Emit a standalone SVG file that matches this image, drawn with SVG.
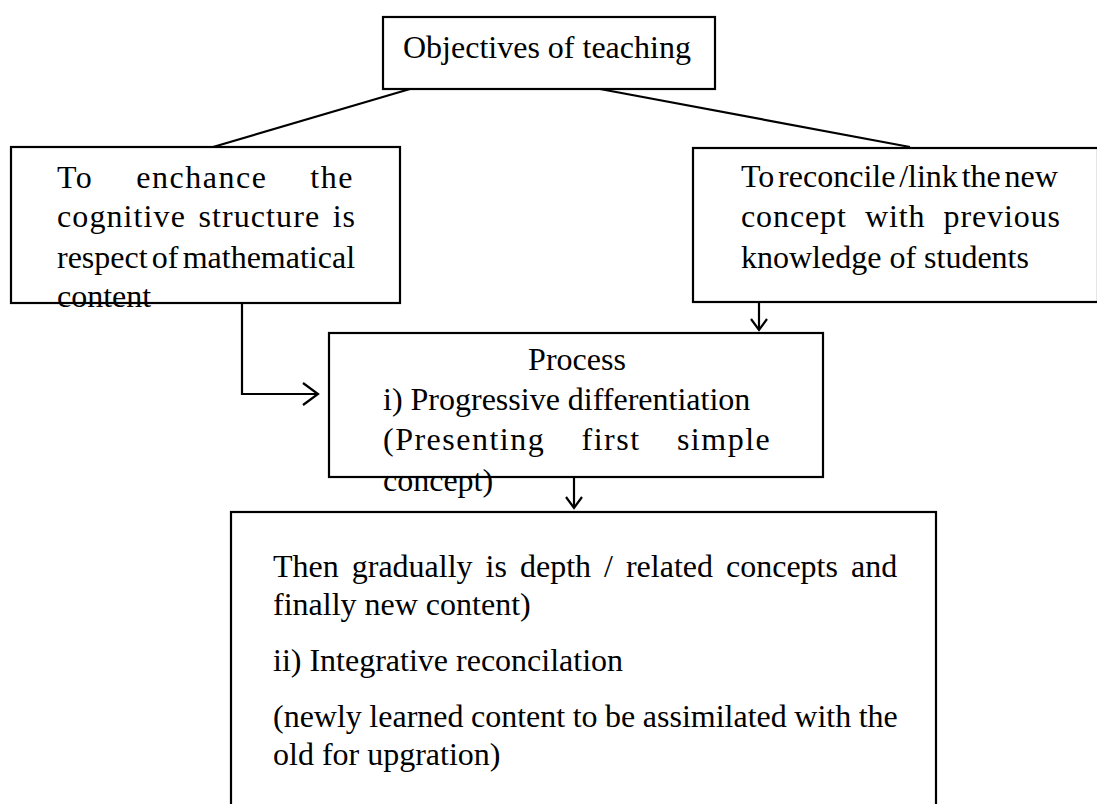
<svg xmlns="http://www.w3.org/2000/svg" width="1097" height="804" viewBox="0 0 1097 804">
<style>
.box{fill:#fff;stroke:#000;stroke-width:2.2}
.ln{fill:none;stroke:#000;stroke-width:2.2}
text{font-family:"Liberation Serif","Times New Roman",serif;font-size:32px;fill:#000}
</style>
<rect width="1097" height="804" fill="#fff"/>
<g id="connectors">
<line class="ln" x1="410" y1="89" x2="213" y2="147"/>
<line class="ln" x1="600" y1="89" x2="910" y2="147"/>
<path class="ln" d="M242,303 V394 H318"/>
<path class="ln" d="M303,383 L318,394 L303,405"/>
<line class="ln" x1="759" y1="302" x2="759" y2="330"/>
<path class="ln" d="M751,319 L759,330 L767,319"/>
<line class="ln" x1="574" y1="477" x2="574" y2="508"/>
<path class="ln" d="M566,497 L574,508 L582,497"/>
</g>
<g id="objectives">
<rect class="box" x="383" y="17" width="332" height="72"/>
<text x="403" y="58">Objectives of teaching</text>
</g>
<g id="enhance">
<rect class="box" x="11" y="147" width="389" height="156"/>
<text x="57" y="188" letter-spacing="1.5" word-spacing="33.5">To enchance the</text>
<text x="57" y="227" letter-spacing="1.1" word-spacing="3.3">cognitive structure is</text>
<text x="57" y="268" word-spacing="-3.8">respect of mathematical</text>
<text x="57" y="307">content</text>
</g>
<g id="reconcile">
<rect class="box" x="693" y="148" width="405" height="154"/>
<text x="741" y="187" word-spacing="-4.2">To reconcile /link the new</text>
<text x="741" y="227" letter-spacing="0.9" word-spacing="9.2">concept with previous</text>
<text x="741" y="268">knowledge of students</text>
</g>
<g id="process">
<rect class="box" x="329" y="333" width="494" height="144"/>
<text x="577" y="370" text-anchor="middle">Process</text>
<text x="383" y="410">i) Progressive differentiation</text>
<text x="383" y="450" letter-spacing="1.5" word-spacing="26.8">(Presenting first simple</text>
<text x="383" y="491">concept)</text>
</g>
<g id="details">
<rect class="box" x="231" y="512" width="705" height="310"/>
<text x="273" y="577" word-spacing="5">Then gradually is depth / related concepts and</text>
<text x="273" y="615">finally new content)</text>
<text x="273" y="671">ii) Integrative reconcilation</text>
<text x="273" y="727" word-spacing="-0.5">(newly learned content to be assimilated with the</text>
<text x="273" y="765">old for upgration)</text>
</g>
</svg>
